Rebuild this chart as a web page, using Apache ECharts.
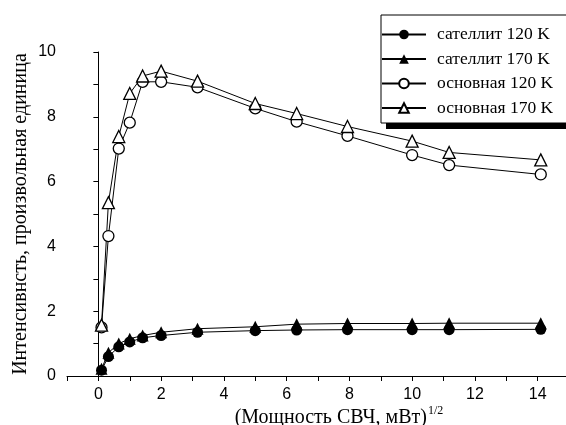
<!DOCTYPE html>
<html>
<head>
<meta charset="utf-8">
<script src="https://cdn.jsdelivr.net/npm/echarts@6/dist/echarts.min.js"></script>
<style>html,body{margin:0;padding:0;background:#fff}#c{width:566px;height:425px}</style>
</head>
<body>
<div id="c"></div>
<script>
const xValues = [0.1, 0.32, 0.65, 1.0, 1.41, 2.0, 3.16, 5.0, 6.32, 7.94, 10.0, 11.18, 14.1];
const sat120 = [0.18, 0.6, 0.9, 1.05, 1.18, 1.25, 1.35, 1.4, 1.42, 1.43, 1.43, 1.43, 1.44];
const sat170 = [0.22, 0.72, 1.0, 1.15, 1.25, 1.35, 1.46, 1.52, 1.6, 1.62, 1.62, 1.63, 1.63];
const main120 = [1.5, 4.32, 7.02, 7.82, 9.08, 9.08, 8.91, 8.26, 7.85, 7.41, 6.82, 6.51, 6.22];
const main170 = [1.57, 5.35, 7.39, 8.72, 9.26, 9.41, 9.1, 8.41, 8.1, 7.7, 7.25, 6.9, 6.67];
const seriesNames = ['сателлит 120 K', 'сателлит 170 K', 'основная 120 K', 'основная 170 K'];
const xTickLabels = [0, 2, 4, 6, 8, 10, 12, 14];
const yTickLabels = [0, 2, 4, 6, 8, 10];

const pair = ys => xValues.map((x, i) => [x, ys[i]]);
const mk = (name, ys, symbol, filled, size) => ({
  name, type: 'line', data: pair(ys), symbol, symbolSize: size,
  lineStyle: { color: '#000', width: 1 },
  itemStyle: { color: filled ? '#000' : '#fff', borderColor: '#000', borderWidth: filled ? 0 : 1.3 },
  emphasis: { disabled: true }, animation: false
});

const chart = echarts.init(document.getElementById('c'), null, { renderer: 'canvas' });
chart.setOption({
  backgroundColor: '#fff',
  animation: false,
  grid: { left: 67, top: 52, width: 502, height: 324, containLabel: false, outerBoundsMode: 'none' },
  graphic: [{
    type: 'rect', z: 0, silent: true,
    shape: { x: 386, y: 22, width: 220, height: 107 },
    style: { fill: '#000' }
  }],
  legend: {
    z: 10,
    left: 381, top: 15, orient: 'vertical',
    data: seriesNames,
    itemWidth: 44, itemHeight: 12, itemGap: 6.5,
    padding: [10.5, 40, 6, 0],
    borderColor: '#000', borderWidth: 1, backgroundColor: '#fff',
    textStyle: { fontFamily: 'Liberation Serif', fontSize: 17.5, color: '#000', lineHeight: 18, padding: [0, 0, 0, 6] }
  },
  xAxis: {
    type: 'value', min: -1, max: 15, interval: 1,
    axisLine: { show: true, lineStyle: { color: '#000', width: 1 } },
    axisTick: { show: true, length: 5, lineStyle: { color: '#000' } },
    splitLine: { show: false },
    axisLabel: {
      margin: 11, color: '#000', fontFamily: 'Liberation Sans', fontSize: 16,
      showMinLabel: true, showMaxLabel: true,
      formatter: v => xTickLabels.includes(v) ? String(v) : ''
    },
    name: '(Мощность СВЧ, мВт){sup|1/2}',
    nameLocation: 'middle', nameGap: 29, nameMoveOverlap: false,
    nameTextStyle: {
      fontFamily: 'Liberation Serif', fontSize: 20, color: '#000', padding: [0, 0, 0, 42],
      rich: { sup: { fontFamily: 'Liberation Serif', fontSize: 12, color: '#000', verticalAlign: 'top', padding: [0, 0, 14, 1] } }
    }
  },
  yAxis: {
    type: 'value', min: 0, max: 10, interval: 1,
    axisLine: { show: true, lineStyle: { color: '#000', width: 1 } },
    axisTick: { show: true, length: 5, lineStyle: { color: '#000' } },
    splitLine: { show: false },
    axisLabel: {
      margin: 11, color: '#000', fontFamily: 'Liberation Sans', fontSize: 16,
      formatter: v => yTickLabels.includes(v) ? String(v) : ''
    },
    name: 'Интенсивнсть, произвольная единица',
    nameLocation: 'middle', nameGap: 36, nameMoveOverlap: false,
    nameTextStyle: { fontFamily: 'Liberation Serif', fontSize: 20, color: '#000' }
  },
  series: [
    mk(seriesNames[0], sat120, 'circle', true, 11),
    mk(seriesNames[1], sat170, 'triangle', true, 12),
    mk(seriesNames[2], main120, 'circle', false, 11),
    mk(seriesNames[3], main170, 'triangle', false, 12)
  ]
});
</script>
</body>
</html>
